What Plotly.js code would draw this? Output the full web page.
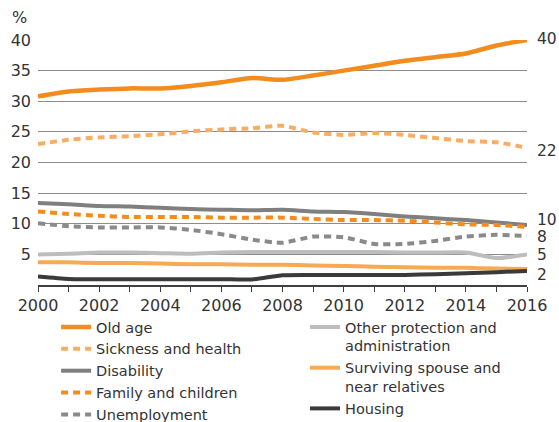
<!DOCTYPE html>
<html>
<head>
<meta charset="utf-8">
<script src="https://cdn.plot.ly/plotly-3.0.1.min.js"></script>
<style>html,body{margin:0;padding:0;background:#fff;}#chart{width:559px;height:422px;}</style>
</head>
<body>
<div id="chart"></div>
<script>
var years = [2000,2001,2002,2003,2004,2005,2006,2007,2008,2009,2010,2011,2012,2013,2014,2015,2016];
var yearLabels = ['2000','','2002','','2004','','2006','','2008','','2010','','2012','','2014','','2016'];

var oldAge      = [30.8,31.6,31.9,32.1,32.1,32.5,33.1,33.8,33.5,34.2,35.0,35.8,36.6,37.2,37.8,39.1,40.0];
var sickness    = [23.0,23.7,24.1,24.3,24.6,25.1,25.4,25.6,26.0,24.9,24.5,24.8,24.5,24.0,23.5,23.3,22.4];
var disability  = [13.4,13.2,12.9,12.8,12.6,12.4,12.3,12.2,12.3,12.0,11.9,11.6,11.2,10.9,10.6,10.2,9.8];
var family      = [12.0,11.6,11.3,11.1,11.1,11.1,11.0,11.0,11.0,10.8,10.6,10.6,10.5,10.2,9.9,9.8,9.5];
var unemployment= [10.1,9.6,9.4,9.4,9.4,9.0,8.3,7.4,6.9,7.9,7.8,6.7,6.7,7.2,7.9,8.2,8.0];
var otherProt   = [5.0,5.1,5.3,5.3,5.2,5.1,5.3,5.4,5.4,5.4,5.4,5.4,5.3,5.3,5.3,4.4,5.0];
var surviving   = [3.7,3.7,3.6,3.6,3.5,3.4,3.4,3.3,3.3,3.2,3.1,3.0,2.9,2.8,2.8,2.7,2.6];
var housing     = [1.4,1.0,0.95,0.95,0.95,0.95,0.95,0.9,1.6,1.65,1.65,1.65,1.65,1.75,1.9,2.1,2.3];

var seriesNames = ['Old age','Sickness and health','Disability','Family and children','Unemployment',
                   'Other protection and<br>administration','Surviving spouse and<br>near relatives','Housing'];
var endLabels = ['40','22','10','8','5','2'];

var FONT = 'DejaVu Sans, sans-serif';
var TXT = '#333333';
var DOTS = '7px,5px';

function tr(y, name, color, width, dash, legend) {
  return {
    x: years, y: y, name: name, type: 'scatter', mode: 'lines',
    line: {color: color, width: width, dash: dash, shape: 'spline', smoothing: 0.6},
    legend: legend, hoverinfo: 'skip'
  };
}

var data = [
  tr(oldAge,       seriesNames[0], '#f28c1e', 4.5, 'solid', 'legend'),
  tr(sickness,     seriesNames[1], '#f9ad62', 4,   DOTS,    'legend'),
  tr(disability,   seriesNames[2], '#7f7f7f', 4,   'solid', 'legend'),
  tr(family,       seriesNames[3], '#f28c1e', 4,   DOTS,    'legend'),
  tr(unemployment, seriesNames[4], '#8a8a8a', 4,   DOTS,    'legend'),
  tr(otherProt,    seriesNames[5], '#bdbdbd', 4,   'solid', 'legend2'),
  tr(surviving,    seriesNames[6], '#f8a953', 4,   'solid', 'legend2'),
  tr(housing,      seriesNames[7], '#3a3a3a', 4,   'solid', 'legend2')
];

var lastIdx = years.length - 1;
var labelSeries = [oldAge, sickness, disability, unemployment, otherProt, housing];
var labelShift = [1, -3, 5, -1, -1, -4];
var annotations = endLabels.map(function(t, i) {
  return {x: years[lastIdx], y: labelSeries[i][lastIdx], xref: 'x', yref: 'y', text: t,
          showarrow: false, xanchor: 'left', yanchor: 'middle', xshift: 8, yshift: labelShift[i],
          font: {family: FONT, size: 15.5, color: TXT}};
});
annotations.push({x: 0, y: 1, xref: 'paper', yref: 'paper', text: '%', showarrow: false,
                  xanchor: 'right', yanchor: 'middle', xshift: -9, yshift: 23,
                  font: {family: FONT, size: 16, color: TXT}});

var layout = {
  width: 559, height: 422,
  margin: {l: 38, r: 32, t: 40, b: 137, autoexpand: false},
  paper_bgcolor: '#ffffff', plot_bgcolor: '#ffffff',
  font: {family: FONT, color: TXT},
  xaxis: {
    range: [2000, 2016], tickvals: years, ticktext: yearLabels,
    ticks: 'outside', ticklen: 5, tickwidth: 1, tickcolor: '#404040',
    showline: true, linecolor: '#404040', linewidth: 1.5,
    showgrid: false, zeroline: false, fixedrange: true,
    tickfont: {family: FONT, size: 16, color: TXT}
  },
  yaxis: {
    range: [0, 40], tickvals: [5,10,15,20,25,30,35,40],
    showgrid: true, gridcolor: '#8c8c8c', gridwidth: 1,
    zeroline: false, showline: false, ticks: '', ticklabelstandoff: 6, fixedrange: true,
    tickfont: {family: FONT, size: 16, color: TXT}
  },
  showlegend: true,
  legend: {x: 0.037, y: -0.1064, xanchor: 'left', yanchor: 'top', orientation: 'v',
           bgcolor: 'rgba(0,0,0,0)', borderwidth: 0, valign: 'top',
           font: {family: FONT, size: 14.5, color: TXT}},
  legend2: {x: 0.546, y: -0.1064, xanchor: 'left', yanchor: 'top', orientation: 'v',
            bgcolor: 'rgba(0,0,0,0)', borderwidth: 0, valign: 'top',
            font: {family: FONT, size: 14.5, color: TXT}},
  annotations: annotations
};

Plotly.newPlot('chart', data, layout, {staticPlot: true, displayModeBar: false});
</script>
</body>
</html>
